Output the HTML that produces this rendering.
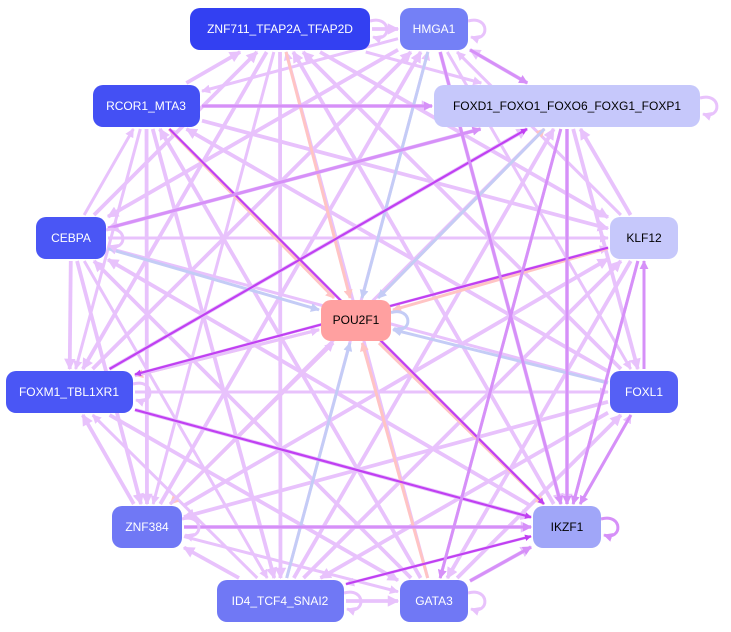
<!DOCTYPE html>
<html><head><meta charset="utf-8"><style>
html,body{margin:0;padding:0;background:#fff;}
svg{display:block;font-family:"Liberation Sans",sans-serif;}
</style></head><body>
<svg id="s" width="731" height="632" viewBox="0 0 731 632" xmlns="http://www.w3.org/2000/svg">
<defs>
<marker id="m0" viewBox="0 0 10 10" refX="9" refY="5" markerWidth="3" markerHeight="3" orient="auto" markerUnits="strokeWidth"><path d="M0,0L10,5L0,10z" fill="#e8c2fc"/></marker>
<marker id="m1" viewBox="0 0 10 10" refX="9" refY="5" markerWidth="3" markerHeight="3" orient="auto" markerUnits="strokeWidth"><path d="M0,0L10,5L0,10z" fill="#ffc4c4"/></marker>
<marker id="m2" viewBox="0 0 10 10" refX="9" refY="5" markerWidth="3" markerHeight="3" orient="auto" markerUnits="strokeWidth"><path d="M0,0L10,5L0,10z" fill="#c4ccf6"/></marker>
<marker id="m3" viewBox="0 0 10 10" refX="9" refY="5" markerWidth="3" markerHeight="3" orient="auto" markerUnits="strokeWidth"><path d="M0,0L10,5L0,10z" fill="#c040f2"/></marker>
<marker id="m4" viewBox="0 0 10 10" refX="9" refY="5" markerWidth="3" markerHeight="3" orient="auto" markerUnits="strokeWidth"><path d="M0,0L10,5L0,10z" fill="#d690f8"/></marker>
</defs>
<g id="edges" fill="none" stroke-width="3"></g>
<g id="nodes" font-size="12" text-anchor="middle">
<rect x="190" y="8" width="180" height="42" rx="10" fill="#3340f2"/><text x="280" y="33" fill="#fff">ZNF711_TFAP2A_TFAP2D</text>
<rect x="400" y="8" width="68" height="42" rx="10" fill="#7480f6"/><text x="434" y="33" fill="#fff">HMGA1</text>
<rect x="93" y="85" width="107" height="42" rx="10" fill="#4450f4"/><text x="146" y="110" fill="#fff">RCOR1_MTA3</text>
<rect x="434" y="85" width="266" height="42" rx="10" fill="#c6c8fb"/><text x="567" y="110" fill="#000">FOXD1_FOXO1_FOXO6_FOXG1_FOXP1</text>
<rect x="36" y="217" width="70" height="42" rx="10" fill="#4a56f5"/><text x="71" y="242" fill="#fff">CEBPA</text>
<rect x="610" y="217" width="68" height="42" rx="10" fill="#c6c8fb"/><text x="644" y="242" fill="#000">KLF12</text>
<rect x="321" y="300" width="70" height="41" rx="10" fill="#ffa0a0"/><text x="356" y="324" fill="#000">POU2F1</text>
<rect x="6" y="371" width="127" height="42" rx="10" fill="#4a56f5"/><text x="69" y="396" fill="#fff">FOXM1_TBL1XR1</text>
<rect x="610" y="371" width="68" height="42" rx="10" fill="#5560f5"/><text x="644" y="396" fill="#fff">FOXL1</text>
<rect x="112" y="506" width="70" height="42" rx="10" fill="#7078f5"/><text x="147" y="531" fill="#fff">ZNF384</text>
<rect x="533" y="506" width="68" height="42" rx="10" fill="#a0a6f8"/><text x="567" y="531" fill="#000">IKZF1</text>
<rect x="217" y="580" width="127" height="42" rx="10" fill="#7078f5"/><text x="280" y="605" fill="#fff">ID4_TCF4_SNAI2</text>
<rect x="400" y="580" width="68" height="42" rx="10" fill="#7078f5"/><text x="434" y="605" fill="#fff">GATA3</text>
</g>
</svg>
<script>
var N={Z:[190,8,180,42],H:[400,8,68,42],R:[93,85,107,42],F:[434,85,266,42],C:[36,217,70,42],K:[610,217,68,42],P:[321,300,70,41],M:[6,371,127,42],L:[610,371,68,42],N:[112,506,70,42],I:[533,506,68,42],D:[217,580,127,42],G:[400,580,68,42]};
var col=["#e8c2fc","#ffc4c4","#c4ccf6","#c040f2","#d690f8"];
function c(k){var n=N[k];return [n[0]+n[2]/2,n[1]+n[3]/2];}
function clip(k,dx,dy){var n=N[k];var hw=n[2]/2+2,hh=n[3]/2+2;var t=Math.min(dx?hw/Math.abs(dx):1e9,dy?hh/Math.abs(dy):1e9);return t;}
var E=[];
var keys=Object.keys(N);
var skip={"H-G":1,"K-L":1};
for(var i=0;i<keys.length;i++)for(var j=i+1;j<keys.length;j++){var a=keys[i],b=keys[j];if(a=='P'||b=='P')continue;if(skip[a+"-"+b])continue;E.push([(i+j)%2?a:b,(i+j)%2?b:a,0,(i*7+j)%3==0?3:3.8]);}
var sp=[["Z","P",1],["R","P",1],["P","F",1],["K","P",1],["P","M",1],["P","N",1],["P","I",1],["G","P",1],["D","P",2],["H","P",2],["F","P",2],["C","P",2],["L","P",2],["N","P",0],["M","P",0],
["R","I",3],["M","I",3],["M","F",3],["K","M",3],["D","I",3],["H","F",4],["H","I",4],["L","K",4],["L","I",4],["N","I",4],["F","I",4],["G","I",4],["K","I",4],["F","G",4],["C","F",4],["R","F",4]];
sp.forEach(function(e){E.push([e[0],e[1],e[2],e[2]==3?2.2:3]);});
var g=document.getElementById("edges"),h="";
E.forEach(function(e){var A=c(e[0]),B=c(e[1]);var dx=B[0]-A[0],dy=B[1]-A[1];var t1=clip(e[0],dx,dy),t2=clip(e[1],dx,dy);
var x1=A[0]+dx*t1,y1=A[1]+dy*t1,x2=B[0]-dx*t2,y2=B[1]-dy*t2;
h+='<line x1="'+x1+'" y1="'+y1+'" x2="'+x2+'" y2="'+y2+'" stroke="'+col[e[2]]+'" stroke-width="'+e[3]+'" marker-end="url(#m'+e[2]+')"/>';});
[["Z",0],["F",0],["N",0],["I",4],["G",0],["D",0],["M",0],["C",0],["P",2],["H",0]].forEach(function(s){var n=N[s[0]];var x=n[0]+n[2],y=n[1]+n[3]/2;
h+='<path d="M'+x+','+(y-8)+' C'+(x+22)+','+(y-14)+' '+(x+22)+','+(y+14)+' '+(x+3)+','+(y+8)+'" stroke="'+col[s[1]]+'" stroke-width="3" marker-end="url(#m'+s[1]+')"/>';});
g.innerHTML=h;
</script>
</body></html>
